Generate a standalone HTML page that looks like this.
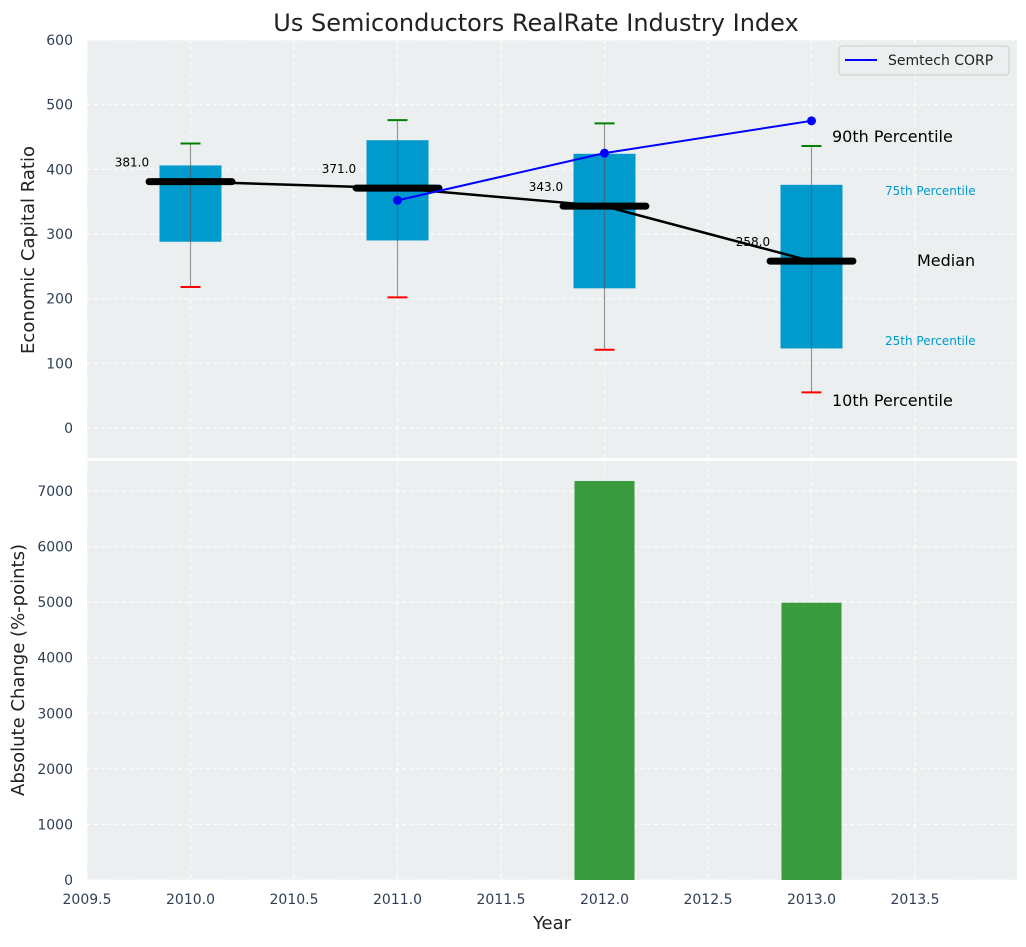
<!DOCTYPE html>
<html><head><meta charset="utf-8"><style>
body{margin:0;background:#fff;font-family:"Liberation Sans","DejaVu Sans",sans-serif}
svg text{font-family:"DejaVu Sans","Liberation Sans",sans-serif}
</style></head><body>
<svg id="c" width="1026" height="942" xmlns="http://www.w3.org/2000/svg"></svg>
<script>
const years=[2010,2011,2012,2013];
const p10=[218,202,121,55];
const p25=[288,290,216,123];
const medians=[381,371,343,258];
const p75=[406,445,424,376];
const p90=[440,476,471,436];
const semYears=[2011,2012,2013];
const semVals=[352,425,475];
const changeYears=[2012,2013];
const changeVals=[7180,4990];
const topTicks=[0,100,200,300,400,500,600];
const botTicks=[0,1000,2000,3000,4000,5000,6000,7000];
const xTicks=[2009.5,2010,2010.5,2011,2011.5,2012,2012.5,2013,2013.5];

const L=87,R=1017;
const xs=v=>L+(v-2009.5)*207;
const yt=v=>428-v*0.6467;
const yb=v=>880-v*0.05557;
const svg=document.getElementById('c');
const NS='http://www.w3.org/2000/svg';
function mk(tag,a,txt){const e=document.createElementNS(NS,tag);for(const k in a)e.setAttribute(k,a[k]);if(txt!==undefined)e.textContent=txt;svg.appendChild(e);return e;}

let e=mk('rect',{x:L,y:40,width:R-L,height:418,fill:'#ebeff0'});


e=mk('rect',{x:L,y:461,width:R-L,height:419,fill:'#ebeff0'});



xTicks.forEach(t=>{
  mk('line',{x1:xs(t),x2:xs(t),y1:40,y2:458,stroke:'#fff','stroke-dasharray':'4,3','stroke-width':1});
  mk('line',{x1:xs(t),x2:xs(t),y1:461,y2:880,stroke:'#fff','stroke-dasharray':'4,3','stroke-width':1});
  e=mk('text',{x:xs(t),y:904,'text-anchor':'middle','font-size':14,fill:'#2e3f55'},t.toFixed(1));
  
  
});
topTicks.forEach(t=>{
  mk('line',{x1:L,x2:R,y1:yt(t),y2:yt(t),stroke:'#fff','stroke-dasharray':'4,3'});
  e=mk('text',{x:73,y:yt(t)+5,'text-anchor':'end','font-size':14,fill:'#2e3f55'},t);
  
  
});
botTicks.forEach(t=>{
  mk('line',{x1:L,x2:R,y1:yb(t),y2:yb(t),stroke:'#fff','stroke-dasharray':'4,3'});
  e=mk('text',{x:73,y:yb(t)+5,'text-anchor':'end','font-size':14,fill:'#2e3f55'},t);
  
  
});

years.forEach((y,i)=>{
  const x=xs(y),hw=31;
  e=mk('rect',{x:x-hw,y:yt(p75[i]),width:2*hw,height:yt(p25[i])-yt(p75[i]),fill:'#009acd'});
  
  
  mk('line',{x1:x,x2:x,y1:yt(p90[i]),y2:yt(p10[i]),stroke:'#555','stroke-opacity':0.6,'stroke-width':1.2});
  e=mk('line',{x1:x-10,x2:x+10,y1:yt(p90[i]),y2:yt(p90[i]),stroke:'green','stroke-width':2});
  
  
  e=mk('line',{x1:x-10,x2:x+10,y1:yt(p10[i]),y2:yt(p10[i]),stroke:'red','stroke-width':2});
  
  
});
e=mk('polyline',{points:years.map((y,i)=>xs(y)+','+yt(medians[i])).join(' '),fill:'none',stroke:'#000','stroke-width':2.5});


years.forEach((y,i)=>{
  e=mk('line',{x1:xs(y-0.2),x2:xs(y+0.2),y1:yt(medians[i]),y2:yt(medians[i]),stroke:'#000','stroke-width':7,'stroke-linecap':'round'});
  
  
  e=mk('text',{x:xs(y-0.2),y:yt(medians[i])-15,'text-anchor':'end','font-size':12,fill:'#000'},medians[i].toFixed(1));
  
  
});
e=mk('polyline',{points:semYears.map((y,i)=>xs(y)+','+yt(semVals[i])).join(' '),fill:'none',stroke:'blue','stroke-width':2});


semYears.forEach((y,i)=>{
  e=mk('circle',{cx:xs(y),cy:yt(semVals[i]),r:4.5,fill:'blue'});
  
  
});
const ann=[[832,142,'90th Percentile',16,'#000'],[885,195,'75th Percentile',12,'#009acd'],[917,266,'Median',16,'#000'],[885,345,'25th Percentile',12,'#009acd'],[832,406,'10th Percentile',16,'#000']];
ann.forEach(a=>{e=mk('text',{x:a[0],y:a[1],'font-size':a[3],fill:a[4]},a[2]);
  
  });
e=mk('rect',{x:839,y:46,width:170,height:29,rx:3,fill:'#ebeff0',stroke:'#ccc'});


mk('line',{x1:845,x2:877,y1:60,y2:60,stroke:'blue','stroke-width':2});
e=mk('text',{x:888,y:65,'font-size':14,fill:'#222'},'Semtech CORP');



changeYears.forEach((y,i)=>{
  e=mk('rect',{x:xs(y-0.145),y:yb(changeVals[i]),width:0.29*207,height:880-yb(changeVals[i]),fill:'#3a9a3e'});
  
  
});
e=mk('text',{x:536,y:31,'text-anchor':'middle','font-size':24,fill:'#222'},'Us Semiconductors RealRate Industry Index');


e=mk('text',{x:0,y:0,'text-anchor':'middle','font-size':18,fill:'#222',transform:'translate(34,250) rotate(-90)'},'Economic Capital Ratio');


e=mk('text',{x:0,y:0,'text-anchor':'middle','font-size':18,fill:'#222',transform:'translate(24,670) rotate(-90)'},'Absolute Change (%-points)');


e=mk('text',{x:552,y:929,'text-anchor':'middle','font-size':18,fill:'#222'},'Year');


</script>
</body></html>
